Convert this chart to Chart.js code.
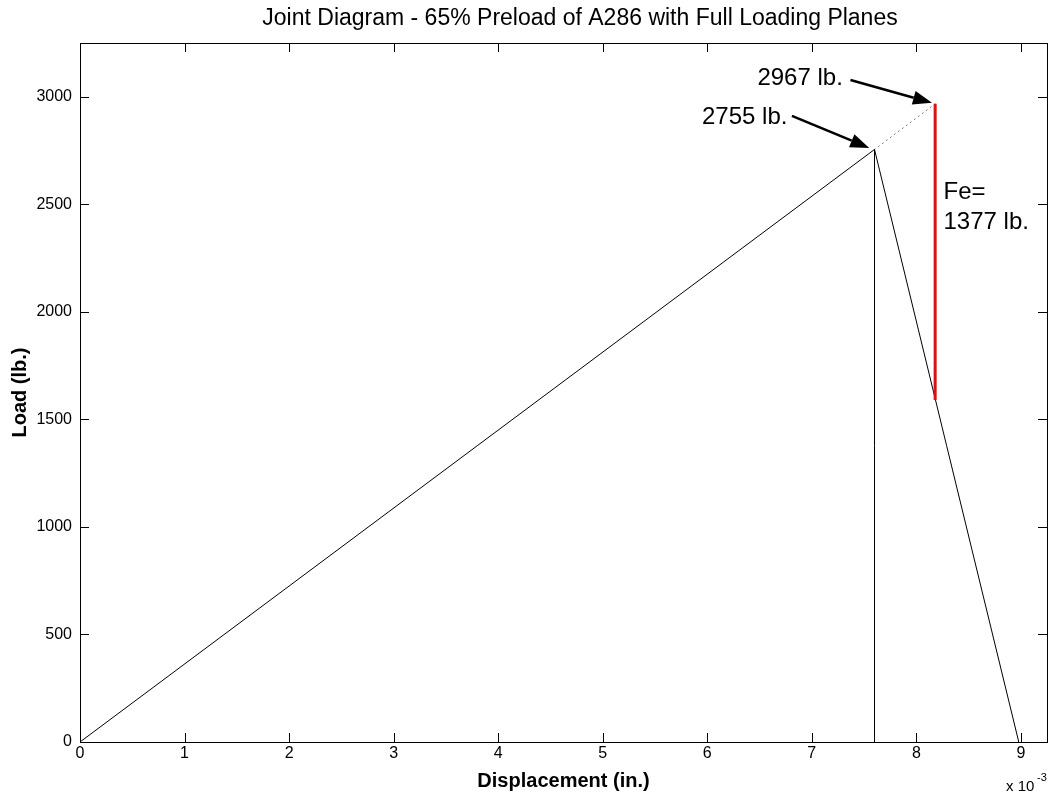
<!DOCTYPE html>
<html>
<head>
<meta charset="utf-8">
<script src="https://cdn.jsdelivr.net/npm/chart.js@4.4.0/dist/chart.umd.min.js"></script>
<style>
  body { margin: 0; background: #fff; }
</style>
</head>
<body>
<canvas id="jointChart" width="1049" height="796"></canvas>
<script>
// displacement in 1e-3 in., load in lb.
const boltX = [0, 7.6];
const boltY = [0, 2755];
const extX = [7.6, 8.18];          // dotted extension of the bolt line
const extY = [2755, 2967];
const jointX = [7.6, 8.98];
const jointY = [2755, 0];
const dropX = [7.6, 7.6];
const dropY = [0, 2755];
const feX = [8.18, 8.18];          // external load Fe
const feY = [1590, 2967];

const xTicks = [0, 1, 2, 3, 4, 5, 6, 7, 8, 9];
const yTicks = [0, 500, 1000, 1500, 2000, 2500, 3000];

// text labels + arrows (data units)
const notes = [
  { text: '2967 lb.', x: 6.48, y: 3085, from: [7.37, 3078], to: [8.15, 2972] },
  { text: '2755 lb.', x: 5.95, y: 2906, from: [6.81, 2911], to: [7.55, 2762] },
  { text: 'Fe=', x: 8.26, y: 2557 },
  { text: '1377 lb.', x: 8.26, y: 2418 }
];

function pts(xs, ys) {
  return xs.map((x, i) => ({ x: x, y: ys[i] }));
}

function arrow(ctx, x1, y1, x2, y2) {
  const ang = Math.atan2(y2 - y1, x2 - x1);
  const len = 19, half = 7;
  const bx = x2 - len * Math.cos(ang), by = y2 - len * Math.sin(ang);
  ctx.beginPath();
  ctx.moveTo(x1, y1);
  ctx.lineTo(bx, by);
  ctx.lineWidth = 2.5;
  ctx.stroke();
  ctx.beginPath();
  ctx.moveTo(x2, y2);
  ctx.lineTo(bx + half * Math.sin(ang), by - half * Math.cos(ang));
  ctx.lineTo(bx - half * Math.sin(ang), by + half * Math.cos(ang));
  ctx.closePath();
  ctx.fill();
}

// matlab-ish frame, inward ticks, title and annotations
const matlabLook = {
  id: 'matlabLook',
  afterDraw(chart) {
    const ctx = chart.ctx;
    const a = chart.chartArea;
    const xs = chart.scales.x, ys = chart.scales.y;
    ctx.save();
    ctx.strokeStyle = '#000';
    ctx.fillStyle = '#000';
    ctx.lineWidth = 1;
    ctx.strokeRect(Math.round(a.left) + 0.5, Math.round(a.top) + 0.5,
      Math.round(a.right - a.left), Math.round(a.bottom - a.top));
    ctx.beginPath();
    xTicks.forEach(v => {
      const px = Math.round(xs.getPixelForValue(v)) + 0.5;
      ctx.moveTo(px, a.bottom); ctx.lineTo(px, a.bottom - 9);
      ctx.moveTo(px, a.top); ctx.lineTo(px, a.top + 9);
    });
    yTicks.forEach(v => {
      const py = Math.round(ys.getPixelForValue(v)) + 0.5;
      ctx.moveTo(a.left, py); ctx.lineTo(a.left + 9, py);
      ctx.moveTo(a.right, py); ctx.lineTo(a.right - 9, py);
    });
    ctx.stroke();

    // title
    ctx.font = '23px "Liberation Sans", Arial, sans-serif';
    ctx.textAlign = 'center';
    ctx.textBaseline = 'middle';
    ctx.fillText('Joint Diagram - 65% Preload of A286 with Full Loading Planes', 580, 19);

    // exponent
    ctx.textAlign = 'left';
    ctx.font = '15px "Liberation Sans", Arial, sans-serif';
    ctx.fillText('x 10', 1006, 787);
    ctx.font = '11px "Liberation Sans", Arial, sans-serif';
    ctx.fillText('-3', 1037, 778);

    // annotations
    ctx.font = '24px "Liberation Sans", Arial, sans-serif';
    notes.forEach(n => {
      ctx.fillText(n.text, xs.getPixelForValue(n.x), ys.getPixelForValue(n.y));
      if (n.from) {
        arrow(ctx, xs.getPixelForValue(n.from[0]), ys.getPixelForValue(n.from[1]),
          xs.getPixelForValue(n.to[0]), ys.getPixelForValue(n.to[1]));
      }
    });
    ctx.restore();
  }
};

const tickFont = { family: '"Liberation Sans", Arial, sans-serif', size: 16 };
const labelFont = { family: '"Liberation Sans", Arial, sans-serif', size: 20, weight: 'bold' };

const config = {
  type: 'scatter',
  data: {
    datasets: [
      { data: pts(feX, feY), borderColor: '#dd1111', borderWidth: 3 },
      { data: pts(boltX, boltY), borderColor: '#000', borderWidth: 1 },
      { data: pts(extX, extY), borderColor: '#000', borderWidth: 1, borderDash: [1, 4] },
      { data: pts(jointX, jointY), borderColor: '#000', borderWidth: 1 },
      { data: pts(dropX, dropY), borderColor: '#000', borderWidth: 1 }
    ].map(d => Object.assign(d, { showLine: true, pointRadius: 0, fill: false }))
  },
  options: {
    responsive: false,
    animation: false,
    layout: { padding: { top: 43, right: 2, left: 0, bottom: 0 } },
    scales: {
      x: {
        type: 'linear',
        min: 0,
        max: 9.25,
        afterBuildTicks: s => { s.ticks = xTicks.map(v => ({ value: v })); },
        afterFit: s => { s.height = 54; },
        grid: { display: false, drawTicks: false },
        border: { display: false },
        ticks: { color: '#000', font: tickFont, padding: 2, callback: v => String(v) },
        title: { display: true, text: 'Displacement (in.)', color: '#000', font: labelFont, padding: { top: 0, bottom: 3 } }
      },
      y: {
        type: 'linear',
        min: 0,
        max: 3250,
        afterBuildTicks: s => { s.ticks = yTicks.map(v => ({ value: v })); },
        afterFit: s => { s.width = 80; },
        grid: { display: false, drawTicks: false },
        border: { display: false },
        ticks: { color: '#000', font: tickFont, padding: 8, callback: v => String(v) },
        title: { display: true, text: 'Load (lb.)', color: '#000', font: labelFont, padding: { top: 8, bottom: 0 } }
      }
    },
    plugins: {
      legend: { display: false },
      tooltip: { enabled: false }
    }
  },
  plugins: [matlabLook]
};

const jointChart = new Chart(document.getElementById('jointChart').getContext('2d'), config);
</script>
</body>
</html>
